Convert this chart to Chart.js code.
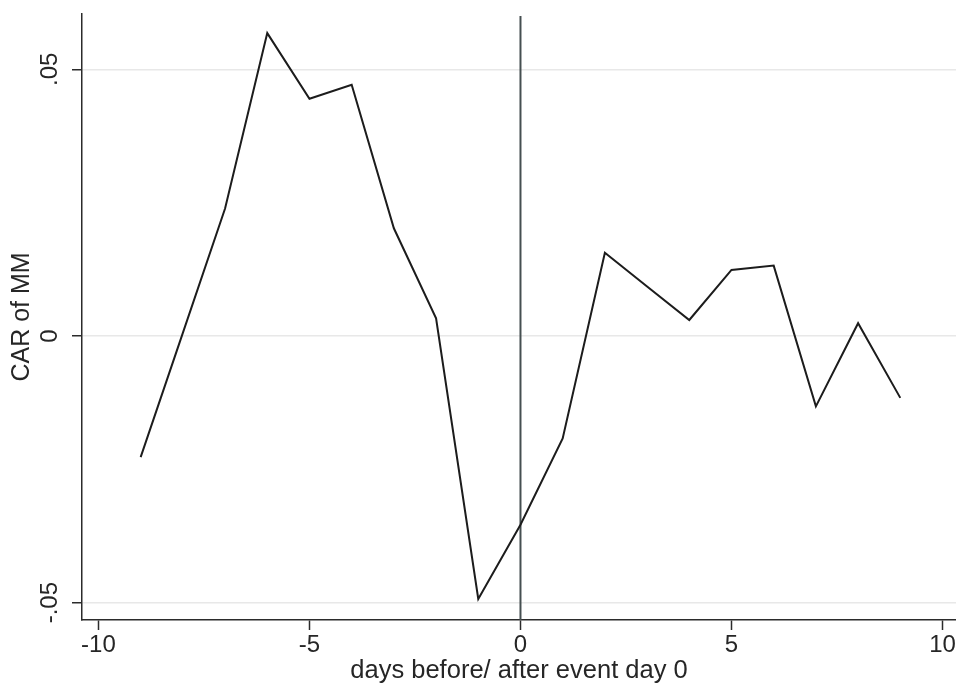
<!DOCTYPE html>
<html>
<head>
<meta charset="utf-8">
<title>CAR of MM</title>
<script src="https://cdn.jsdelivr.net/npm/chart.js@4/dist/chart.umd.min.js"></script>
<style>
  html, body { margin: 0; padding: 0; background: #ffffff; }
  #wrap { width: 956px; height: 684px; }
</style>
</head>
<body>
<div id="wrap"><canvas id="chart" width="956" height="684"></canvas></div>
<script>
// Event window: days relative to the event day
const days = [-9, -8, -7, -6, -5, -4, -3, -2, -1, 0, 1, 2, 3, 4, 5, 6, 7, 8, 9];
// Cumulative abnormal return under the market model, one per day
const car = [-0.0227, 0.0006, 0.0239, 0.0568, 0.0445, 0.0471, 0.0202, 0.0033, -0.0493,
             -0.0354, -0.0192, 0.0156, 0.0093, 0.0030, 0.0124, 0.0132, -0.0132, 0.0024, -0.0116];
// Axis ticks and their labels
const xTicks = [-10, -5, 0, 5, 10];
const yTicks = [-0.05, 0, 0.05];
const yTickLabels = ['-.05', '0', '.05'];
// Reference line at the event day
const eventDay = 0;

const FONT = "'Liberation Sans', Arial, sans-serif";
const TEXT = '#262626';
const AXIS = '#2b2b2b';

const eventLine = {
  id: 'eventLine',
  beforeDatasetsDraw(chart) {
    const { ctx, chartArea, scales } = chart;
    const x = scales.x.getPixelForValue(eventDay);
    ctx.save();
    ctx.strokeStyle = '#454f51';
    ctx.lineWidth = 2;
    ctx.beginPath();
    ctx.moveTo(x, chartArea.top + 2);
    ctx.lineTo(x, chartArea.bottom);
    ctx.stroke();
    ctx.restore();
  }
};

new Chart(document.getElementById('chart'), {
  type: 'line',
  data: {
    datasets: [{
      label: 'CAR of MM',
      data: days.map((d, i) => ({ x: d, y: car[i] })),
      borderColor: '#1c1c1c',
      borderWidth: 2,
      borderJoinStyle: 'miter',
      pointRadius: 0,
      tension: 0,
      fill: false
    }]
  },
  options: {
    responsive: false,
    animation: false,
    layout: { padding: { top: 14, right: 0, bottom: 0, left: 0 } },
    plugins: { legend: { display: false }, tooltip: { enabled: false } },
    scales: {
      x: {
        type: 'linear',
        min: -10.39,
        max: 10.32,
        afterBuildTicks: s => { s.ticks = xTicks.map(v => ({ value: v })); },
        afterFit: s => { s.paddingLeft = 0; s.paddingRight = 0; s.height = 64; },
        grid: { drawOnChartArea: false, drawTicks: true, tickLength: 10, tickColor: AXIS, tickWidth: 1.5 },
        border: { display: true, color: AXIS, width: 1.5 },
        ticks: {
          padding: 3,
          maxRotation: 0,
          color: TEXT,
          font: { family: FONT, size: 24, lineHeight: 1 },
          callback: v => String(v)
        },
        title: {
          display: true,
          text: 'days before/ after event day 0',
          color: TEXT,
          font: { family: FONT, size: 25.5, lineHeight: 1 },
          padding: { top: 0, bottom: 0 }
        }
      },
      y: {
        type: 'linear',
        min: -0.05325,
        max: 0.06038,
        afterBuildTicks: s => { s.ticks = yTicks.map(v => ({ value: v })); },
        afterFit: s => { s.paddingTop = 0; s.paddingBottom = 0; s.width = 82; },
        grid: { color: '#e8e8e8', lineWidth: 1.5, drawTicks: true, tickLength: 10, tickColor: AXIS, tickWidth: 1.5 },
        border: { display: true, color: AXIS, width: 1.5 },
        ticks: {
          padding: 1,
          minRotation: 90,
          maxRotation: 90,
          crossAlign: 'center',
          color: TEXT,
          font: { family: FONT, size: 24, lineHeight: 1 },
          callback: v => yTickLabels[yTicks.indexOf(v)] ?? ''
        },
        title: {
          display: true,
          text: 'CAR of MM',
          color: TEXT,
          font: { family: FONT, size: 25, lineHeight: 1 },
          padding: { top: 10, bottom: 0 }
        }
      }
    }
  },
  plugins: [eventLine]
});
</script>
</body>
</html>
